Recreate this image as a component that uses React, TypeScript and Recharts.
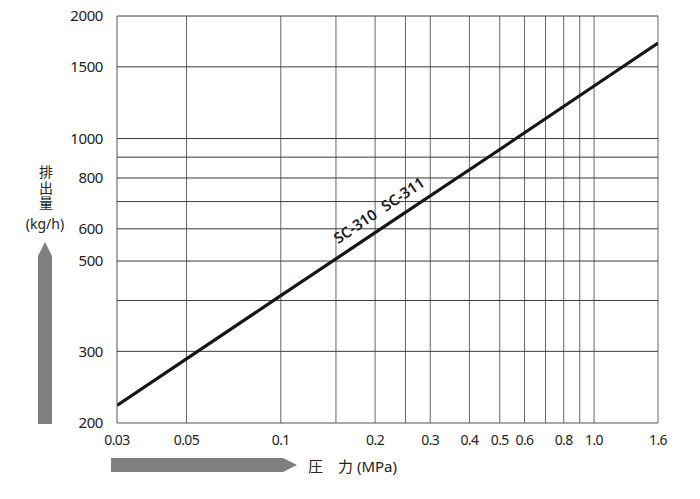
import { LineChart, Line, XAxis, YAxis, ReferenceLine, LabelList } from "recharts";

const pressure = [0.03, 0.1, 0.2, 0.5, 1.0, 1.6];
const discharge = [221, 411, 587, 940, 1346, 1717];

const xTicks = [0.03, 0.05, 0.1, 0.2, 0.3, 0.4, 0.5, 0.6, 0.8, 1.0, 1.6];
const xGrid = [0.05, 0.1, 0.15, 0.2, 0.25, 0.3, 0.4, 0.5, 0.6, 0.7, 0.8, 0.9, 1.0, 1.6];
const yTicks = [200, 300, 500, 600, 800, 1000, 1500, 2000];
const yGrid = [300, 400, 500, 600, 700, 800, 900, 1000, 1500, 2000];

const seriesLabel = ["SC-310", "SC-311"];

const data = pressure.map((p, i) => ({ p, q: discharge[i] }));

const font = '"Noto Sans", "Noto Sans CJK JP", sans-serif';

const LineLabel = (props: any) => {
	const { x, y, index } = props;
	if (index !== 2) return null;
	const cx = x + 7;
	const cy = y - 18;
	return (
		<text
			x={cx}
			y={cy}
			textAnchor="middle"
			fontSize={15}
			fontWeight={600}
			fill="#1a1a1a"
			fontFamily={font}
			transform={`rotate(-34 ${cx} ${cy})`}
		>
			<tspan>{seriesLabel[0]}</tspan>
			<tspan dx={9}>{seriesLabel[1]}</tspan>
		</text>
	);
};

const App = () => {
	return (
		<div
			style={{
				position: "absolute",
				left: 0,
				top: 0,
				width: 700,
				height: 499,
				background: "#fff",
				fontFamily: font,
			}}
		>
			<LineChart
				width={700}
				height={499}
				data={data}
				margin={{ top: 16, right: 42, left: 57, bottom: 46 }}
			>
				<XAxis
					dataKey="p"
					type="number"
					scale="log"
					domain={[0.03, 1.6]}
					ticks={xTicks}
					interval={0}
					allowDataOverflow
					tickFormatter={(v: number) => (v === 1 ? "1.0" : String(v))}
					tickLine={false}
					axisLine={{ stroke: "#555" }}
					tick={{ fill: "#222", fontSize: 14, letterSpacing: -0.6 }}
					tickMargin={6}
					height={30}
				/>
				<YAxis
					type="number"
					scale="log"
					domain={[200, 2000]}
					ticks={yTicks}
					interval={0}
					allowDataOverflow
					tickLine={false}
					axisLine={{ stroke: "#555" }}
					tick={{ fill: "#222", fontSize: 15, letterSpacing: -0.4 }}
					tickMargin={8}
					width={60}
				/>
				{xGrid.map((v) => (
					<ReferenceLine key={"x" + v} x={v} stroke="#666" strokeWidth={1} />
				))}
				{yGrid.map((v) => (
					<ReferenceLine key={"y" + v} y={v} stroke="#3a3a3a" strokeWidth={1} />
				))}
				<Line
					type="linear"
					dataKey="q"
					stroke="#1a1414"
					strokeWidth={3.2}
					dot={false}
					isAnimationActive={false}
				>
					<LabelList dataKey="q" content={LineLabel} />
				</Line>
			</LineChart>

			{/* y axis title + arrow */}
			<div
				style={{
					position: "absolute",
					left: 36,
					top: 165,
					writingMode: "vertical-rl",
					textOrientation: "upright",
					fontSize: 14,
					lineHeight: "18px",
					letterSpacing: 1.5,
					color: "#222",
				}}
			>
				排出量
			</div>
			<div
				style={{
					position: "absolute",
					left: 22,
					top: 214,
					width: 46,
					textAlign: "center",
					fontSize: 14,
					lineHeight: "20px",
					color: "#222",
				}}
			>
				(kg/h)
			</div>
			<svg
				style={{ position: "absolute", left: 0, top: 0 }}
				width={700}
				height={499}
			>
				<polygon points="45,242 52,256 52,424 38,424 38,256" fill="#7f7f7f" />
				<polygon points="111,458 283,458 297,465 283,472 111,472" fill="#7f7f7f" />
			</svg>
			<div
				style={{
					position: "absolute",
					left: 308,
					top: 455,
					fontSize: 15,
					color: "#222",
					whiteSpace: "pre",
				}}
			>
				圧　力 (MPa)
			</div>
		</div>
	);
};

export default App;
